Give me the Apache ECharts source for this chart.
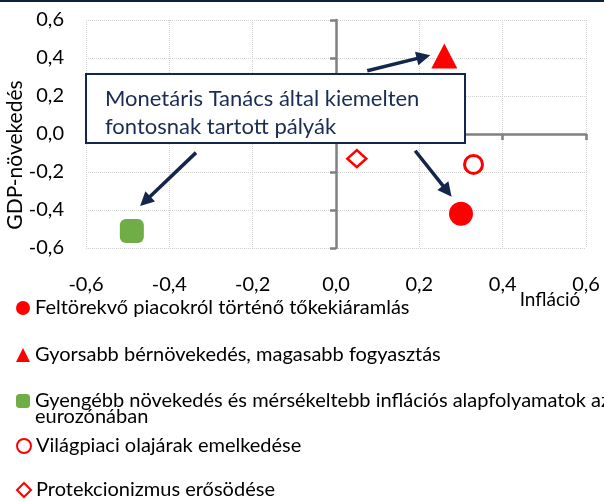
<!DOCTYPE html>
<html>
<head>
<meta charset="utf-8">
<script src="https://cdn.jsdelivr.net/npm/echarts@6/dist/echarts.min.js"></script>
<style>
  html, body { margin: 0; padding: 0; background: #fff; }
  #chart { width: 604px; height: 501px; }
</style>
</head>
<body>
<div id="chart"></div>
<script>
  // forgatókönyvek (legend sorrendben)
  var scenarioNames = [
    'Feltörekvő piacokról történő tőkekiáramlás',
    'Gyorsabb bérnövekedés, magasabb fogyasztás',
    'Gyengébb növekedés és mérsékeltebb inflációs alapfolyamatok az eurozónában',
    'Világpiaci olajárak emelkedése',
    'Protekcionizmus erősödése'
  ];
  var inflation = [0.30, 0.26, -0.49, 0.33, 0.05];
  var gdpGrowth = [-0.42, 0.41, -0.51, -0.16, -0.13];

  // nyilak a szövegdobozból (adat koordinátákban)
  var arrowFrom = [[0.075, 0.333], [-0.336, -0.098], [0.19, -0.088]];
  var arrowTo = [[0.21, 0.406], [-0.458, -0.354], [0.267, -0.301]];

  var boxLines = ['Monetáris Tanács által kiemelten', 'fontosnak tartott pályák'];
  var xName = 'Infláció';
  var yName = 'GDP-növekedés';

  var FONT = 'Lato';
  var NAVY = '#14264b';
  var RED = '#ff0000';

  function comma(v) {
    return v.toFixed(1).replace('.', ',');
  }

  var symbols = [
    {symbol: 'circle', size: 24, style: {color: RED, opacity: 1}},
    {symbol: 'triangle', size: [26, 25], style: {color: RED, opacity: 1}},
    {symbol: 'roundRect', size: 24, style: {color: '#70ad47', opacity: 1}},
    {symbol: 'circle', size: 18, style: {color: '#fff', borderColor: RED, borderWidth: 3, opacity: 1}},
    {symbol: 'diamond', size: [19, 17], style: {color: '#fff', borderColor: RED, borderWidth: 2.5, opacity: 1}}
  ];

  var series = scenarioNames.map(function (name, i) {
    return {
      name: name,
      type: 'scatter',
      xAxisIndex: 0,
      yAxisIndex: 0,
      symbol: symbols[i].symbol,
      symbolSize: symbols[i].size,
      itemStyle: symbols[i].style,
      emphasis: {disabled: true},
      data: [[inflation[i], gdpGrowth[i]]],
      z: 5
    };
  });

  // nyilak markLine-nal az első sorozaton
  series[0].markLine = {
    silent: true,
    symbol: ['none', 'triangle'],
    symbolSize: 14,
    label: {show: false},
    lineStyle: {color: NAVY, width: 3.5, type: 'solid', opacity: 1},
    emphasis: {disabled: true},
    data: arrowFrom.map(function (p, i) {
      return [{coord: p}, {coord: arrowTo[i]}];
    })
  };

  // jelmagyarázat: minden sor külön legend
  var legendTops = [298, 345, 375, 436, 480];
  var legends = scenarioNames.map(function (name, i) {
    var lg = {
      data: [name],
      left: 16,
      top: legendTops[i],
      orient: 'vertical',
      padding: 0,
      itemWidth: 14,
      itemHeight: 14,
      selectedMode: false,
      textStyle: {fontFamily: FONT, fontSize: 20, color: '#000', lineHeight: 20}
    };
    if (i === 2) {
      // két sor, az ikon az első sorhoz igazodik
      lg.formatter = function (n) {
        return ' \n' + n.replace(' eurozónában', '\neurozónában');
      };
      lg.textStyle = {fontFamily: FONT, fontSize: 20, color: '#000', lineHeight: 16};
    }
    return lg;
  });

  var option = {
    backgroundColor: '#fff',
    animation: false,
    grid: {left: 86, right: 18, top: 20, bottom: 253},
    legend: legends,
    xAxis: [{
      type: 'value',
      min: -0.6,
      max: 0.6,
      interval: 0.2,
      position: 'bottom',
      axisLine: {show: false, onZero: false},
      axisTick: {show: false},
      axisLabel: {fontFamily: FONT, fontSize: 20, color: '#000', margin: 27, formatter: comma},
      splitLine: {lineStyle: {color: '#cfcfcf', type: 'dotted', width: 1}}
    }, {
      type: 'value',
      min: -0.6,
      max: 0.6,
      interval: 0.2,
      position: 'bottom',
      axisLine: {show: true, onZero: true, onZeroAxisIndex: 0, lineStyle: {color: '#808080', width: 2.5}},
      axisTick: {show: true, length: 6, lineStyle: {color: '#808080', width: 2.5}},
      axisLabel: {show: false},
      splitLine: {show: false}
    }],
    yAxis: [{
      type: 'value',
      min: -0.6,
      max: 0.6,
      interval: 0.2,
      position: 'left',
      axisLine: {show: false, onZero: false},
      axisTick: {show: false},
      axisLabel: {fontFamily: FONT, fontSize: 20, color: '#000', margin: 22, formatter: comma},
      splitLine: {lineStyle: {color: '#cfcfcf', type: 'dotted', width: 1}}
    }, {
      type: 'value',
      min: -0.6,
      max: 0.6,
      interval: 0.2,
      position: 'left',
      axisLine: {show: true, onZero: true, onZeroAxisIndex: 0, lineStyle: {color: '#808080', width: 2.5}},
      axisTick: {show: true, length: 6, lineStyle: {color: '#808080', width: 2.5}},
      axisLabel: {show: false},
      splitLine: {show: false}
    }],
    graphic: [
      // felső sötétkék vonal
      {type: 'rect', left: 0, top: 0, z: 100, shape: {width: 604, height: 2}, style: {fill: '#0e1f3f'}},
      // szövegdoboz
      {type: 'rect', left: 85, top: 73, z: 100,
        shape: {width: 379, height: 69},
        style: {fill: '#fff', stroke: NAVY, lineWidth: 2}},
      {type: 'text', left: 105, top: 85, z: 101,
        style: {text: boxLines.join('\n'), font: '22px ' + FONT, fill: '#1b2c52', lineHeight: 28}},
      // tengelycímek
      {type: 'text', x: 550, y: 300, z: 101,
        style: {text: xName, font: '19px ' + FONT, fill: '#000', align: 'center', verticalAlign: 'middle'}},
      {type: 'text', x: 15, y: 155, rotation: Math.PI / 2, z: 101,
        style: {text: yName, font: '21px ' + FONT, fill: '#000', align: 'center', verticalAlign: 'middle'}}
    ],
    series: series
  };

  var chart = echarts.init(document.getElementById('chart'));
  chart.setOption(option);
</script>
</body>
</html>
